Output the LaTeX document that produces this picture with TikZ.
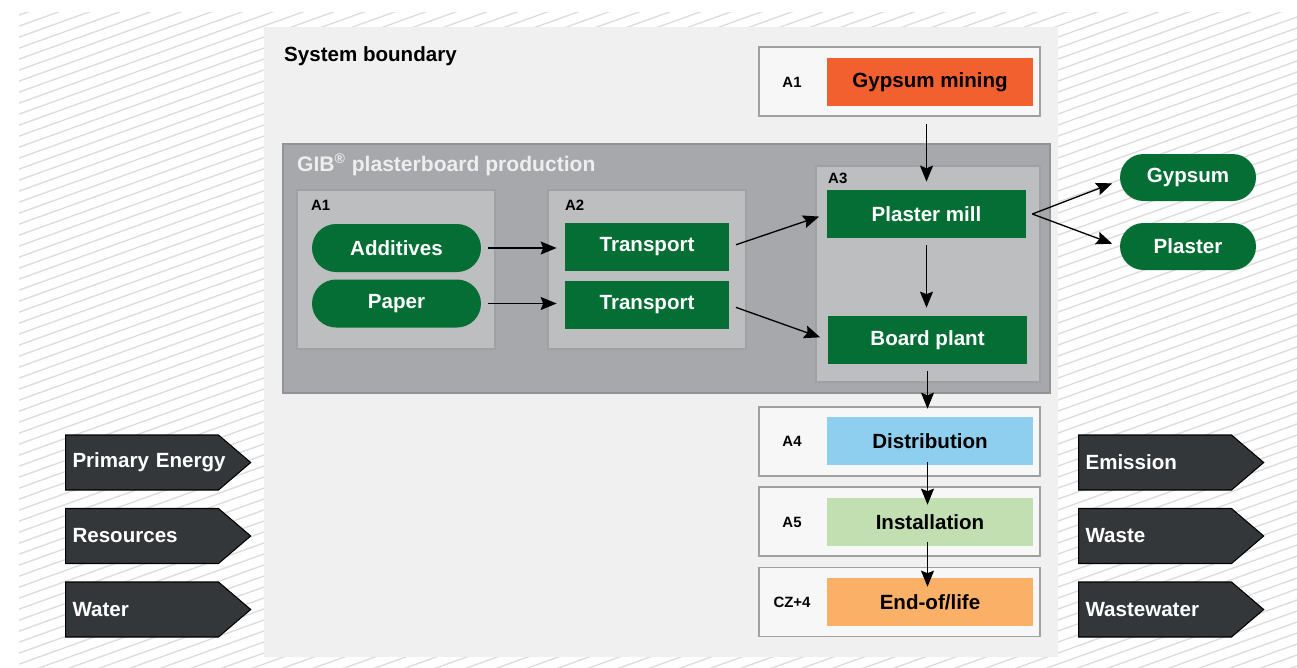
\documentclass[tikz,border=0pt]{standalone}
\usepackage{fontspec}
\setmainfont{Liberation Sans}
\usetikzlibrary{shapes,shapes.symbols,arrows.meta,positioning,calc}
\definecolor{gibgreen}{HTML}{056E34}
\definecolor{hatchgray}{HTML}{DCDCDC}
\definecolor{panelgray}{HTML}{F0F0F0}
\definecolor{prodfill}{HTML}{A7A8AB}
\definecolor{prodline}{HTML}{929396}
\definecolor{prodtext}{HTML}{EEEEEE}
\definecolor{subfill}{HTML}{BDBEC0}
\definecolor{subline}{HTML}{A0A1A3}
\definecolor{stagefill}{HTML}{F7F7F7}
\definecolor{stageline}{HTML}{A0A0A0}
\definecolor{tagfill}{HTML}{34373A}
\definecolor{minecol}{HTML}{F26030}
\definecolor{distcol}{HTML}{8ECFEF}
\definecolor{instcol}{HTML}{C1DFB0}
\definecolor{eolcol}{HTML}{FBB068}

\begin{document}
\begin{tikzpicture}[x=0.02cm,y=-0.02cm,
    font=\fontsize{11.7}{14}\selectfont\bfseries,
    >={Stealth[length=0.32cm,width=0.26cm,inset=0.05cm]},
    flow/.style={->,line width=0.75pt,shorten <=0.14cm,shorten >=0.16cm},
    greenbox/.style={fill=gibgreen,text=white,minimum height=0.96cm},
    pill/.style={greenbox,rounded corners=0.48cm},
    stagebox/.style={draw=stageline,fill=stagefill,line width=1pt,minimum width=5.62cm,minimum height=1.38cm},
    colbox/.style={minimum width=4.12cm,minimum height=0.96cm},
    small/.style={font=\fontsize{8.5}{10}\selectfont\bfseries},
    tag/.style={signal,signal to=east,signal pointer angle=81,draw=black,line width=0.6pt,fill=tagfill,text=white,
        minimum height=1.1cm,text width=2.78cm,align=left,inner xsep=0.14cm,anchor=west}]
    \useasboundingbox (0,0) rectangle (1297,667);
    \begin{scope}
        \clip (19,12) rectangle (1297,667);
        \foreach \k in {0,...,104}
            \draw[hatchgray,line width=0.75pt] (0,{\k*11}) -- ++(1297,-467);
    \end{scope}

    \fill[panelgray] (264,27) rectangle (1058,657);
    \node[anchor=west] (sysb) at (278,56) {System boundary};

    \filldraw[fill=prodfill,draw=prodline,line width=0.8pt] (283,144) rectangle (1050,393);
    \node[anchor=west,text=prodtext,font=\fontsize{12}{14}\selectfont\bfseries] (gib) at (291,165) {GIB\textsuperscript{®} plasterboard production};
    \filldraw[fill=subfill,draw=subline,line width=0.8pt] (297,190) rectangle (495,349);
    \filldraw[fill=subfill,draw=subline,line width=0.8pt] (548,190) rectangle (746,349);
    \filldraw[fill=subfill,draw=subline,line width=0.8pt] (816,166) rectangle (1040,382);
    \node[small,anchor=west] (la1) at (305,205) {A1};
    \node[small,anchor=west] (la2) at (559,205) {A2};
    \node[small,anchor=west] (la3) at (822,178) {A3};

    \node[pill,minimum width=3.38cm] (add) at (396.5,248) {Additives};
    \node[pill,minimum width=3.38cm] (pap) at (396.5,303.5) {Paper};
    \node[greenbox,minimum width=3.28cm] (tr1) at (647,247) {Transport};
    \node[greenbox,minimum width=3.28cm] (tr2) at (647,305) {Transport};
    \node[greenbox,minimum width=3.98cm] (pmill) at (926.5,214) {Plaster mill};
    \node[greenbox,minimum width=3.98cm] (bplant) at (927.5,340) {Board plant};

    \node[stagebox] (mineout) at (899.5,81.5) {};
    \node[stagebox] (distout) at (899.5,441.5) {};
    \node[stagebox] (instout) at (899.5,521.5) {};
    \node[stagebox] (eolout) at (899.5,602) {};
    \node[small] (s1) at (792,82) {A1};
    \node[small] (s4) at (792,441) {A4};
    \node[small] (s5) at (792,522) {A5};
    \node[small] (s6) at (792,602) {CZ+4};
    \node[colbox,fill=minecol] (mine) at (930,82) {Gypsum mining};
    \node[colbox,fill=distcol] (dist) at (930,441) {Distribution};
    \node[colbox,fill=instcol] (inst) at (930,522) {Installation};
    \node[colbox,fill=eolcol] (eol) at (930,602) {End-of/life};

    \node[pill,minimum width=2.72cm,rounded corners=0.47cm,minimum height=0.94cm] (gyp) at (1188,177.5) {Gypsum};
    \node[pill,minimum width=2.72cm,rounded corners=0.47cm,minimum height=0.94cm] (pla) at (1188,246.5) {Plaster};

    \node[tag] (pe) at (65,462.5) {\mbox{Primary Energy}};
    \node[tag] (res) at (65,536) {Resources};
    \node[tag] (wat) at (65,609.5) {Water};
    \node[tag] (emi) at (1078,462.5) {Emission};
    \node[tag] (was) at (1078,536) {Waste};
    \node[tag] (ww) at (1078,609.5) {Wastewater};

    \draw[flow] (add.east) -- (add.east -| tr1.west);
    \draw[flow] (pap.east) -- (pap.east -| tr2.west);
    \draw[flow] (tr1.east) -- (pmill.west);
    \draw[flow] (tr2.east) -- (bplant.west);
    \draw[flow] (mineout.south -| pmill.north) -- (pmill.north);
    \draw[flow] (pmill.south) -- (pmill.south |- bplant.north);
    \draw[flow] (bplant.south) -- (bplant.south |- dist.north);
    \draw[->,line width=0.75pt] ($(dist.south -| bplant.south)+(0,-3)$) -- ($(inst.north -| bplant.south)+(0,7)$);
    \draw[->,line width=0.75pt] ($(inst.south -| bplant.south)+(0,-4)$) -- ($(eol.north -| bplant.south)+(0,9)$);
    \coordinate (split) at ($(pmill.east)+(6,0)$);
    \draw[->,line width=0.75pt,shorten >=0.16cm] (split) -- ($(gyp.west)+(0,3)$);
    \draw[->,line width=0.75pt,shorten >=0.16cm] (split) -- (pla.west);
\end{tikzpicture}
\end{document}
